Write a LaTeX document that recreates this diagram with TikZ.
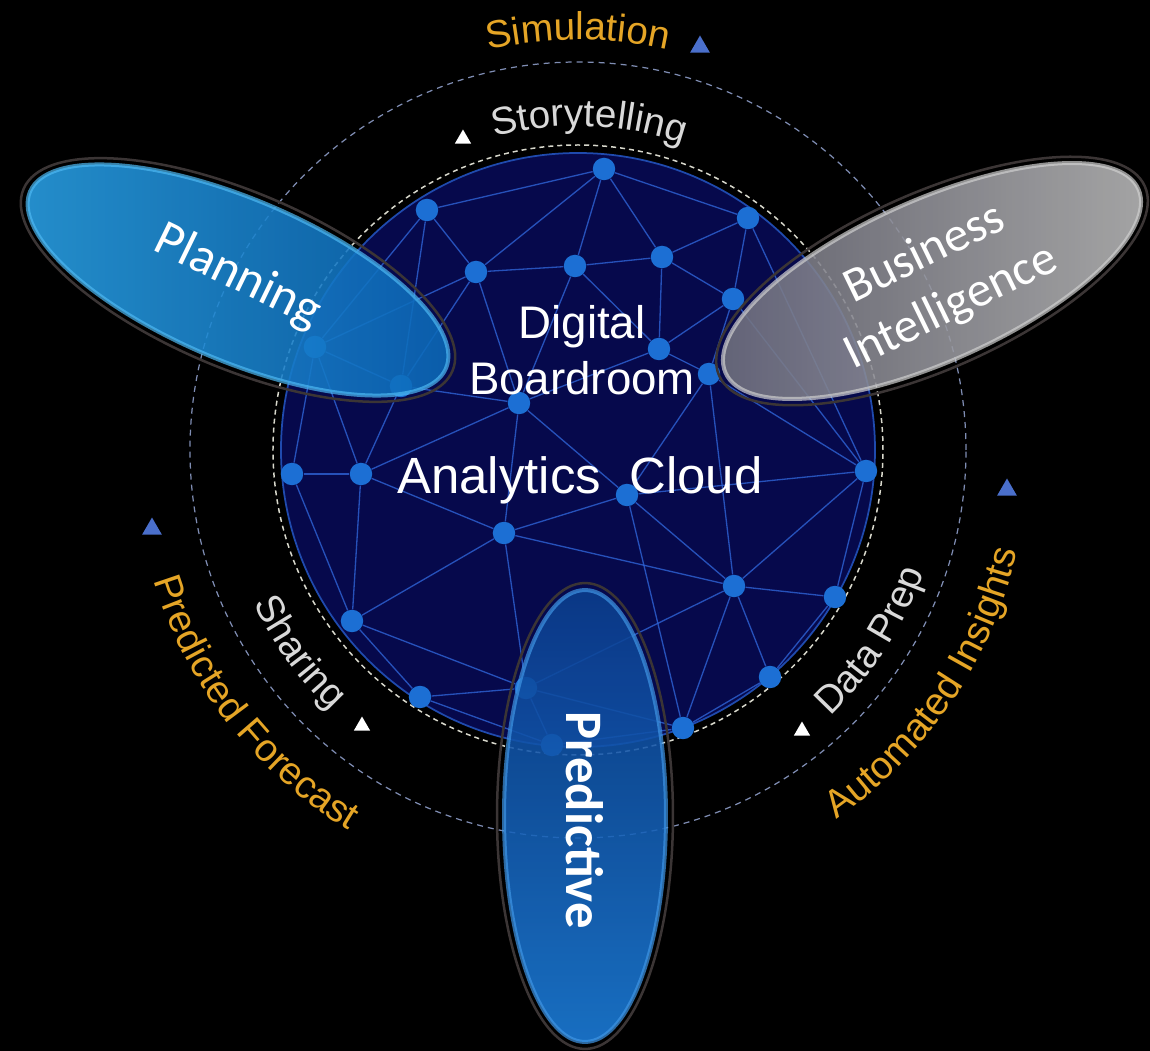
\documentclass[tikz,border=0pt]{standalone}
\usepackage{fontspec}
\setmainfont{Liberation Sans}
\newfontfamily\bubblefont{Carlito}
\usepackage{tikz}
\usetikzlibrary{calc,positioning,decorations.text,shapes.geometric}
\usepackage{xcolor}
\definecolor{navy}{HTML}{06094C}
\definecolor{ringblue}{HTML}{1F4AAE}
\definecolor{linkblue}{HTML}{2E63D6}
\definecolor{dotblue}{HTML}{1C6FD4}
\definecolor{dashwhite}{HTML}{D8D8CC}
\definecolor{dashblue}{HTML}{7F8DB3}
\definecolor{gold}{HTML}{E5A526}
\definecolor{lightgray}{HTML}{D9D9D9}
\definecolor{triblue}{HTML}{4A6FCB}
\definecolor{planlight}{HTML}{2AA3E8}
\definecolor{plandark}{HTML}{0A66B6}
\definecolor{planrim}{HTML}{4DB8F2}
\definecolor{bidark}{HTML}{6E6E7C}
\definecolor{bilight}{HTML}{BDBDBD}
\definecolor{birim}{HTML}{CFCFCF}
\definecolor{predtop}{HTML}{0B3E8E}
\definecolor{predbottom}{HTML}{1C7EDC}
\definecolor{predrim}{HTML}{3F95E4}
\definecolor{bordergray}{HTML}{3B3535}
\newcommand\arcfont{\fontsize{22}{26}\selectfont}

\begin{document}
\begin{tikzpicture}[x=0.02cm,y=0.02cm,
    dot/.style={circle,fill=dotblue,inner sep=0pt,minimum size=0.45cm},
    link/.style={draw=linkblue,line width=0.75pt,opacity=0.8},
    bubble/.style={ellipse,inner sep=0pt,fill opacity=0.88,line width=0.08cm,draw opacity=0.7},
    bubbleborder/.style={ellipse,inner sep=0pt,draw=bordergray,line width=0.05cm},
    arrowtri/.style={regular polygon,regular polygon sides=3,inner sep=0pt,minimum size=#1},
    arctext/.style 2 args={decorate,decoration={text along path,text align=center,text color=#1,text={|\arcfont|#2}}}]
    \useasboundingbox (-578,-601) rectangle (572,450);
    \fill[black] (-578,-601) rectangle (572,450);
    \draw[dashblue,line width=0.7pt,dash pattern=on 0.12cm off 0.1cm] (0,0) circle[radius=388];
    \draw[dashwhite,line width=0.85pt,dash pattern=on 0.1cm off 0.08cm] (0,0) circle[radius=305];
    \draw[ringblue,fill=navy,line width=0.035cm] (0,0) circle[radius=297];
    \foreach \i/\x/\y in {1/26/281,2/-151/240,3/170/232,4/-102/178,5/-3/184,6/84/193,7/155/151,
        8/-263/103,9/-177/64,10/81/101,11/131/76,12/-59/47,13/-286/-24,14/-217/-24,15/288/-21,
        16/-74/-83,17/49/-45,18/-226/-171,19/156/-136,20/257/-147,21/-158/-247,22/-52/-238,
        23/192/-227,24/-26/-295,25/105/-278}
        \node[dot] (n\i) at (\x,\y) {};
    \foreach \a/\b in {1/2,1/3,1/4,1/5,1/6,2/4,2/8,2/9,4/5,4/9,4/12,4/8,5/6,5/10,5/12,3/6,3/7,3/15,
        6/7,6/10,7/10,7/11,7/15,10/11,10/12,11/15,11/17,11/19,12/9,12/14,12/17,12/16,8/9,8/13,8/14,
        9/14,13/14,13/18,14/16,14/18,16/17,16/18,16/22,16/19,17/19,17/15,17/25,15/19,15/20,19/20,
        19/23,19/22,19/25,20/23,18/21,18/22,21/22,21/24,22/24,22/25,23/25,24/25}
        \draw[link] (n\a) -- (n\b);
    \node[align=center,text=white,font=\fontsize{26}{32}\selectfont] (boardroom) at (4,100) {Digital\\Boardroom};
    \node[text=white,font=\fontsize{29}{34}\selectfont] (cloud) at (2,-30) {Analytics\ \ Cloud};
    \node[bubbleborder,minimum width=9.32cm,minimum height=3.52cm,rotate=-23] (planborder) at (-340,170) {};
    \node[bubble,minimum width=9.04cm,minimum height=3.24cm,rotate=-23,left color=planlight,right color=plandark,draw=planrim] (plan) at (planborder.center) {};
    \node[bubbleborder,minimum width=9.32cm,minimum height=3.52cm,rotate=24] (biborder) at (354,169) {};
    \node[bubble,minimum width=9.04cm,minimum height=3.24cm,rotate=24,left color=bidark,right color=bilight,draw=birim] (bi) at (biborder.center) {};
    \node[bubbleborder,minimum width=3.52cm,minimum height=9.32cm] (predborder) at (7,-366) {};
    \node[bubble,minimum width=3.24cm,minimum height=9.04cm,top color=predtop,bottom color=predbottom,draw=predrim] (pred) at (predborder.center) {};
    \node[text=white,font=\bubblefont\fontsize{29}{34}\selectfont,rotate=-26] (planlabel) at ([yshift=0.06cm]plan.center) {Planning};
    \node[text=white,align=center,font=\bubblefont\fontsize{28}{34}\selectfont,rotate=26] (bilabel) at ([xshift=0.12cm]bi.center) {Business\\Intelligence};
    \node[text=white,font=\bubblefont\bfseries\fontsize{30}{34}\selectfont,rotate=-90] (predlabel) at ([yshift=-0.08cm]pred.center) {Predictive};
    \path[arctext={gold}{Simulation}] (120:410) arc[start angle=120,end angle=60,radius=410];
    \path[arctext={lightgray}{Storytelling}] (118:324) arc[start angle=118,end angle=58,radius=324];
    \path[arctext={lightgray}{Sharing}] (186:359) arc[start angle=186,end angle=246,radius=359];
    \path[arctext={gold}{Predicted Forecast}] (178:444) arc[start angle=178,end angle=258,radius=444];
    \path[arctext={lightgray}{Data Prep}] (-63:367) arc[start angle=-63,end angle=-3,radius=367];
    \path[arctext={gold}{Automated Insights}] (-74:451) arc[start angle=-74,end angle=6,radius=451];
    \node[arrowtri=0.46cm,fill=triblue] (simtri) at (122,403) {};
    \node[arrowtri=0.38cm,fill=white] (storytri) at (-115,311) {};
    \node[arrowtri=0.46cm,fill=triblue] (foretri) at (-426,-79) {};
    \node[arrowtri=0.38cm,fill=white] (sharetri) at (-216,-276) {};
    \node[arrowtri=0.38cm,fill=white] (preptri) at (224,-281) {};
    \node[arrowtri=0.46cm,fill=triblue] (insighttri) at (429,-40) {};
\end{tikzpicture}
\end{document}
